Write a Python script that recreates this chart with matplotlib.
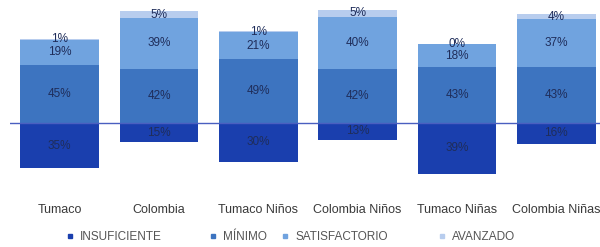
import matplotlib
matplotlib.use("Agg")
import matplotlib.pyplot as plt
import numpy as np
from matplotlib.lines import Line2D

plt.rcParams['font.family'] = ['Liberation Sans Narrow', 'Liberation Sans', 'DejaVu Sans']

categories = ["Tumaco", "Colombia", "Tumaco Niños", "Colombia Niños", "Tumaco Niñas", "Colombia Niñas"]
insuficiente = [35, 15, 30, 13, 39, 16]
minimo = [45, 42, 49, 42, 43, 43]
satisfactorio = [19, 39, 21, 40, 18, 37]
avanzado = [1, 5, 1, 5, 0, 4]

levels = ["INSUFICIENTE", "MÍNIMO", "SATISFACTORIO", "AVANZADO"]
colors = ["#1a3fae", "#3d74c0", "#70a3df", "#b8cdee"]

fig = plt.figure(figsize=(6, 2.47), dpi=100)
ax = fig.add_axes([10 / 600, 67 / 247, 590 / 600, 175 / 247])

x = np.arange(len(categories))
w = 0.79
txt_color = "#1f2d5a"

# insuficiente goes below zero, the rest stack upward
ins = -np.array(insuficiente)
ax.bar(x, ins, w, color=colors[0], zorder=2)
for xi, v in zip(x, insuficiente):
    ax.text(xi, -v / 2, f"{v}%", ha="center", va="center", fontsize=8.5, color=txt_color, zorder=4)

bottom = np.zeros(len(categories))
for vals, col in zip([minimo, satisfactorio, avanzado], colors[1:]):
    vals = np.array(vals)
    ax.bar(x, vals, w, bottom=bottom, color=col, zorder=2)
    for xi, b, v in zip(x, bottom, vals):
        ax.text(xi, b + v / 2, f"{v}%", ha="center", va="center", fontsize=8.5, color=txt_color, zorder=4)
    bottom = bottom + vals

ax.axhline(0, color="#4a5fc0", lw=1, zorder=3)

ax.set_xlim(-0.5, 5.44)
ax.set_ylim(-44, 91)
for s in ax.spines.values():
    s.set_visible(False)
ax.set_yticks([])

ax.set_xticks(x)
ax.set_xticklabels(categories, fontsize=9, color="#3a3a3a")
ax.tick_params(axis="x", length=0, pad=17)

# one legend per entry so their uneven spacing can be matched
leg_x = [70, 213, 285, 442]
for lev, col, lx in zip(levels, colors, leg_x):
    h = Line2D([], [], marker="s", ls="", color=col, markersize=3.5)
    fig.legend([h], [lev], loc="center left", bbox_to_anchor=((lx - 5) / 600, 10 / 247),
               frameon=False, fontsize=8.5, handlelength=0.8, handletextpad=0.5,
               labelcolor="#555555", borderpad=0, borderaxespad=0)

fig.savefig("out.png", dpi=100)
